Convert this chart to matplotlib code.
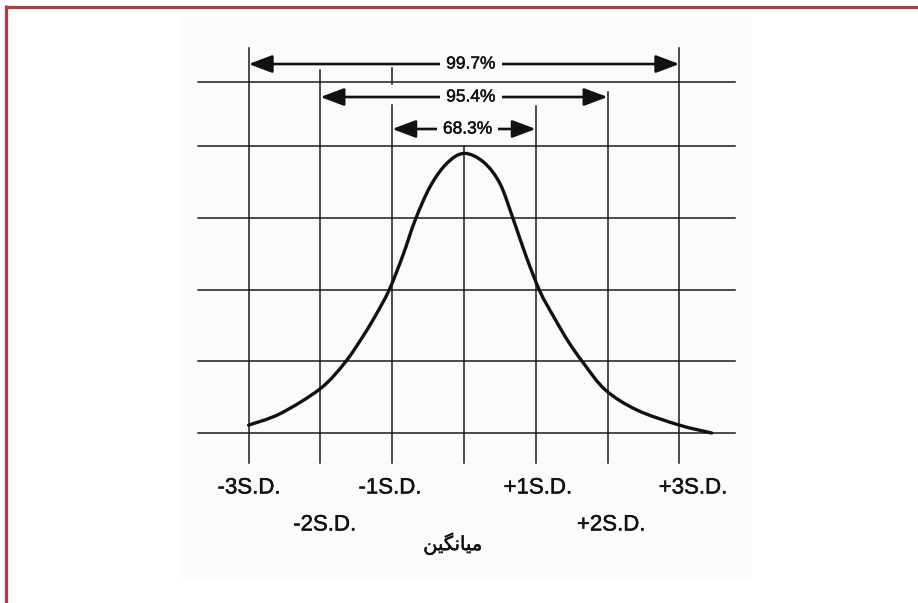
import matplotlib
matplotlib.use("Agg")
import matplotlib.pyplot as plt
import matplotlib.patheffects as pe
from matplotlib.patches import Rectangle, PathPatch
from matplotlib.lines import Line2D
from matplotlib.path import Path

# ---------------- data ----------------
# curve: x in standard deviations, height in grid units
curve_x = [-3.0, -2.56, -2.0, -1.66, -1.40, -1.22, -1.04, -0.85, -0.68, -0.47,
           -0.24, 0.0, 0.27, 0.50, 0.69, 0.87, 1.06, 1.25, 1.45, 1.66, 1.97,
           2.41, 3.0, 3.45]
curve_y = [0.11, 0.27, 0.62, 0.98, 1.36, 1.66, 2.0, 2.48, 2.97, 3.44,
           3.76, 3.90, 3.78, 3.48, 2.97, 2.45, 1.97, 1.62, 1.28, 0.98, 0.60,
           0.32, 0.11, 0.0]

sd_ticks = [-3, -2, -1, 0, 1, 2, 3]
sd_labels = ["-3S.D.", "-2S.D.", "-1S.D.", "+1S.D.", "+2S.D.", "+3S.D."]
sd_label_values = [-3, -2, -1, 1, 2, 3]
grid_levels = [0, 1, 2, 3, 4, 4.9]

range_labels = ["99.7%", "95.4%", "68.3%"]
range_lo = [-3, -2, -1]
range_hi = [3, 2, 1]

mean_label = "میانگین"
# matplotlib has no Arabic shaping: use the contextual forms in visual order
mean_label_shaped = "\uFEE6\uFBFF\uFB95\uFEE7\uFE8E\uFBFF\uFEE3"


def smooth_path(xs, ys):
    """Catmull-Rom curve through the read points, drawn as cubic Bezier segments."""
    pts = list(zip(xs, ys))
    verts = [pts[0]]
    codes = [Path.MOVETO]
    n = len(pts)
    for i in range(n - 1):
        p0 = pts[i - 1] if i > 0 else pts[i]
        p1 = pts[i]
        p2 = pts[i + 1]
        p3 = pts[i + 2] if i + 2 < n else pts[i + 1]
        c1 = (p1[0] + (p2[0] - p0[0]) / 6, p1[1] + (p2[1] - p0[1]) / 6)
        c2 = (p2[0] - (p3[0] - p1[0]) / 6, p2[1] - (p3[1] - p1[1]) / 6)
        verts += [c1, c2, p2]
        codes += [Path.CURVE4] * 3
    return Path(verts, codes)


# ---------------- layout ----------------
W, H = 918, 603
fig = plt.figure(figsize=(W / 100, H / 100), dpi=100)
fig.patch.set_facecolor("white")

# faint scanned-paper area
paper = Rectangle((180 / W, (H - 578) / H), (751 - 180) / W, (578 - 15) / H,
                  transform=fig.transFigure, facecolor="#fbfbfb",
                  edgecolor="none", zorder=-5)
fig.patches.append(paper)
# red frame (top and left visible)
red = "#b03c44"
fig.lines.append(Line2D([5 / W, 1.0], [1 - 6.5 / H, 1 - 6.5 / H], transform=fig.transFigure,
                        color=red, lw=2.3, solid_capstyle="butt", zorder=10))
fig.lines.append(Line2D([5.5 / W, 5.5 / W], [0, 1 - 5 / H], transform=fig.transFigure,
                        color=red, lw=2.3, solid_capstyle="butt", zorder=10))

ax = fig.add_axes([0, 0, 1, 1])
ax.patch.set_alpha(0)
px_x, x0 = 71.8, 464
px_y, y0 = 71.7, 433
ax.set_xlim(-x0 / px_x, (W - x0) / px_x)
ax.set_ylim((y0 - H) / px_y, y0 / px_y)
ax.axis("off")

gc = "#1a1a1a"
glw = 1.1
# horizontal grid lines
for lv in grid_levels:
    ax.plot([-3.7, 3.77], [lv, lv], color=gc, lw=glw, zorder=4)

# vertical grid lines (top ends differ as in the original)
v_top = {-3: 5.37, -2: 5.06, -1: 5.09, 0: 4.0, 1: 4.56, 2: 4.76, 3: 5.37}
for t in sd_ticks:
    if t == -1:
        ax.plot([t, t], [v_top[t], 4.87], color=gc, lw=glw, zorder=4)
        ax.plot([t, t], [4.57, -0.42], color=gc, lw=glw, zorder=4)
    else:
        ax.plot([t, t], [v_top[t], -0.42], color=gc, lw=glw, zorder=4)

# curve
ax.add_patch(PathPatch(smooth_path(curve_x, curve_y), facecolor="none",
                       edgecolor="#111111", lw=2.4, zorder=5,
                       joinstyle="round", capstyle="round"))

thick = [pe.withStroke(linewidth=0.35, foreground="#111111")]

# range arrows
arrow_y = [5.146, 4.686, 4.24]
text_x = [0.097, 0.097, 0.05]
for lab, lo, hi, yy, tx in zip(range_labels, range_lo, range_hi, arrow_y, text_x):
    ax.annotate("", xy=(hi, yy), xytext=(lo, yy),
                arrowprops=dict(arrowstyle="<|-|>,head_length=0.72,head_width=0.27",
                                mutation_scale=20, color="#111111", lw=1.9,
                                shrinkA=0, shrinkB=0), zorder=2)
    ax.text(tx, yy, lab, ha="center", va="center", fontsize=12.5,
            family="Liberation Sans", color="#111111", zorder=3,
            path_effects=thick,
            bbox=dict(boxstyle="square,pad=0.35", fc="#fbfbfb", ec="none"))

# SD labels
label_dx = [0.006, 0.06, -0.03, 0.03, 0.05, 0.19]
label_y = [-0.767, -1.283, -0.767, -0.767, -1.283, -0.767]
for lab, v, dx, yy in zip(sd_labels, sd_label_values, label_dx, label_y):
    ax.text(v + dx, yy, lab, ha="center", va="center", fontsize=16,
            family="Liberation Sans", color="#111111", path_effects=thick)

ax.text(-0.153, -1.548, mean_label_shaped, ha="center", va="center", fontsize=14,
        family="DejaVu Sans", color="#111111", path_effects=thick)

fig.savefig("out.png", dpi=100, facecolor="white")
